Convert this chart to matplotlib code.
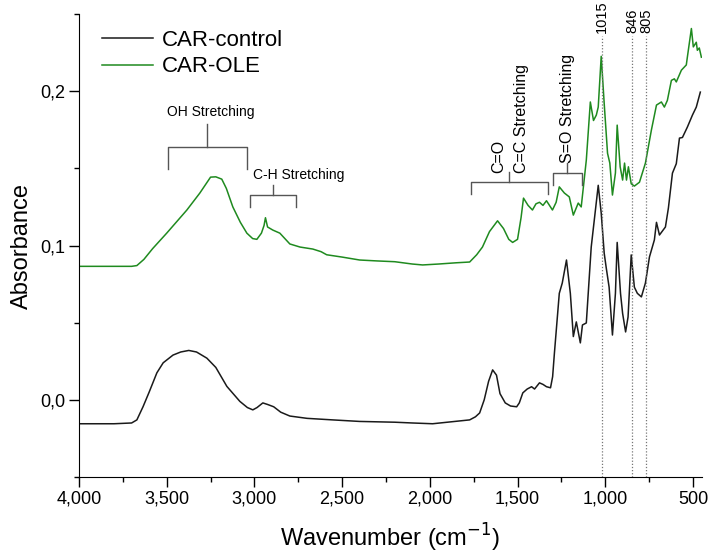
import matplotlib
matplotlib.use('Agg')
import matplotlib.pyplot as plt
from matplotlib.ticker import FixedLocator, MultipleLocator, FuncFormatter

plt.rcParams['font.family'] = ['Liberation Sans', 'DejaVu Sans']

# CAR-control spectrum (wavenumber, absorbance)
wn_control = [4000, 3800, 3700, 3670, 3635, 3600, 3556, 3520, 3464, 3420, 3374, 3330, 3271, 3220,
              3157, 3083, 3040, 3009, 2985, 2952, 2925, 2890, 2850, 2798, 2700, 2554, 2400, 2200,
              2100, 1984, 1900, 1773, 1740, 1716, 1690, 1665, 1642, 1620, 1600, 1570, 1540, 1505,
              1490, 1470, 1445, 1420, 1403, 1375, 1355, 1335, 1312, 1300, 1290, 1262, 1245, 1221,
              1199, 1182, 1165, 1142, 1130, 1108, 1080, 1068, 1040, 1023, 1006, 995, 978, 959, 942,
              932, 913, 901, 884, 870, 852, 834, 817, 794, 771, 748, 720, 708, 691, 657, 640, 617,
              595, 577, 560, 532, 503, 481, 458]
abs_control = [-0.0155, -0.0155, -0.015, -0.013, -0.0045, 0.005, 0.0175, 0.024, 0.029, 0.031, 0.032,
               0.031, 0.027, 0.021, 0.0087, -0.001, -0.005, -0.0065, -0.005, -0.002, -0.003, -0.0045,
               -0.008, -0.0105, -0.012, -0.013, -0.014, -0.0145, -0.015, -0.0155, -0.0145, -0.013,
               -0.011, -0.0085, 0.0, 0.012, 0.0194, 0.016, 0.004, -0.002, -0.004, -0.0045, -0.002,
               0.0045, 0.007, 0.0085, 0.007, 0.011, 0.010, 0.0085, 0.0078, 0.015, 0.030, 0.069,
               0.0757, 0.0906, 0.069, 0.041, 0.0505, 0.0369, 0.0485, 0.0498, 0.099, 0.111, 0.139,
               0.121, 0.095, 0.086, 0.073, 0.042, 0.069, 0.102, 0.069, 0.056, 0.044, 0.0537, 0.0939,
               0.073, 0.069, 0.0667, 0.0757, 0.0926, 0.1036, 0.115, 0.1068, 0.112, 0.1243, 0.1469,
               0.153, 0.1696, 0.170, 0.1767, 0.1845, 0.1897, 0.1994]

# CAR-OLE spectrum
wn_ole = [4000, 3800, 3700, 3670, 3630, 3580, 3500, 3385, 3311, 3250, 3220, 3186, 3160, 3123, 3080,
          3043, 3010, 2986, 2960, 2945, 2937, 2925, 2895, 2855, 2798, 2740, 2667, 2620, 2588, 2500,
          2400, 2300, 2200, 2100, 2041, 1950, 1850, 1773, 1733, 1700, 1660, 1614, 1580, 1550, 1528,
          1500, 1480, 1466, 1440, 1415, 1395, 1375, 1355, 1335, 1301, 1280, 1262, 1233, 1205, 1182,
          1154, 1137, 1108, 1085, 1067, 1051, 1040, 1023, 1006, 987, 974, 959, 942, 932, 915, 901,
          890, 879, 868, 852, 834, 805, 771, 737, 708, 680, 663, 646, 623, 606, 595, 566, 538, 532,
          509, 498, 481, 475, 464, 452]
abs_ole = [0.0865, 0.0865, 0.0865, 0.087, 0.091, 0.098, 0.108, 0.123, 0.134, 0.1443, 0.1445, 0.143,
           0.137, 0.125, 0.115, 0.108, 0.1045, 0.104, 0.108, 0.113, 0.118, 0.112, 0.110, 0.108, 0.101,
           0.099, 0.0977, 0.096, 0.094, 0.0925, 0.0906, 0.090, 0.0895, 0.088, 0.0874, 0.0880, 0.0888,
           0.0893, 0.094, 0.099, 0.109, 0.116, 0.111, 0.104, 0.102, 0.104, 0.118, 0.1307, 0.126, 0.123,
           0.127, 0.128, 0.126, 0.129, 0.123, 0.128, 0.138, 0.134, 0.1315, 0.1197, 0.1275, 0.125,
           0.1553, 0.193, 0.181, 0.1845, 0.1897, 0.2226, 0.192, 0.1598, 0.1534, 0.1327, 0.147, 0.178,
           0.151, 0.1424, 0.1534, 0.1424, 0.151, 0.140, 0.1385, 0.141, 0.1534, 0.1748, 0.191, 0.193,
           0.1897, 0.194, 0.207, 0.208, 0.206, 0.2136, 0.217, 0.222, 0.2406, 0.2287, 0.2317, 0.2265,
           0.228, 0.222]

# marked bands
peak_labels = ['1015', '846', '805']
peak_lines = [1017, 846, 768]

# bracket annotations: left, right, bar height, leg bottom, stem top
brackets = [
    ('OH Stretching', 3493, 3043, 0.1638, 0.1495, 0.1786),
    ('C-H Stretching', 3026, 2764, 0.1327, 0.1249, 0.1390),
    ('C=O', 1767, 1329, 0.1411, 0.1333, 0.1476),
    ('S=O Stretching', 1300, 1135, 0.1469, 0.1392, 0.1534),
]

fig = plt.figure(figsize=(7.09, 5.54), dpi=100)
ax = fig.add_axes([0.1114, 0.139, 0.8786, 0.8357])

ax.plot(wn_control, abs_control, color='#1a1a1a', lw=1.1, label='CAR-control')
ax.plot(wn_ole, abs_ole, color='#1f8a1f', lw=1.1, label='CAR-OLE')

ax.set_xlim(4000, 449)
ax.set_ylim(-0.05, 0.25)

bc = '#555555'
for name, x0, x1, yb, yl, ys in brackets:
    xm = (x0 + x1) / 2
    ax.plot([x0, x0, x1, x1], [yl, yb, yb, yl], color=bc, lw=1)
    ax.plot([xm, xm], [yb, ys], color=bc, lw=1)

ax.text(3250, 0.1864, 'OH Stretching', ha='center', va='center', fontsize=10)
ax.text(2747, 0.1456, 'C-H Stretching', ha='center', va='center', fontsize=10)
ax.text(1608, 0.1470, 'C=O', rotation=90, ha='center', va='bottom', fontsize=11.5)
ax.text(1477, 0.1470, 'C=C Stretching', rotation=90, ha='center', va='bottom', fontsize=11.5)
ax.text(1215, 0.1534, 'S=O Stretching', rotation=90, ha='center', va='bottom', fontsize=11.5)

ax.vlines(peak_lines, -0.05, 0.236, colors='#777777', linestyles=(0, (1, 1.5)), lw=0.9)
for lab, x in zip(peak_labels, peak_lines):
    ax.text(x, 0.2375, lab, rotation=90, ha='center', va='bottom', fontsize=10.5)

ax.spines['top'].set_visible(False)
ax.spines['right'].set_visible(False)
ax.xaxis.set_major_locator(FixedLocator([4000, 3500, 3000, 2500, 2000, 1500, 1000, 500]))
ax.xaxis.set_minor_locator(MultipleLocator(250))
ax.yaxis.set_major_locator(FixedLocator([0.0, 0.1, 0.2]))
ax.yaxis.set_minor_locator(FixedLocator([-0.05, 0.05, 0.15, 0.25]))
ax.xaxis.set_major_formatter(FuncFormatter(lambda v, p: f'{v:,.0f}'))
ax.yaxis.set_major_formatter(FuncFormatter(lambda v, p: f'{v:.1f}'.replace('.', ',')))
ax.tick_params(which='major', length=7, width=1, labelsize=13, pad=3)
ax.tick_params(which='minor', length=3.5, width=1)

ax.set_xlabel('Wavenumber (cm$^{-1}$)', fontsize=17, labelpad=10)
ax.set_ylabel('Absorbance', fontsize=17, labelpad=5)

ax.legend(loc='upper left', bbox_to_anchor=(0.022, 0.985), frameon=False, fontsize=16,
          handlelength=2.3, handletextpad=0.4, labelspacing=0.25, borderaxespad=0)

fig.savefig('out.png', dpi=100)
